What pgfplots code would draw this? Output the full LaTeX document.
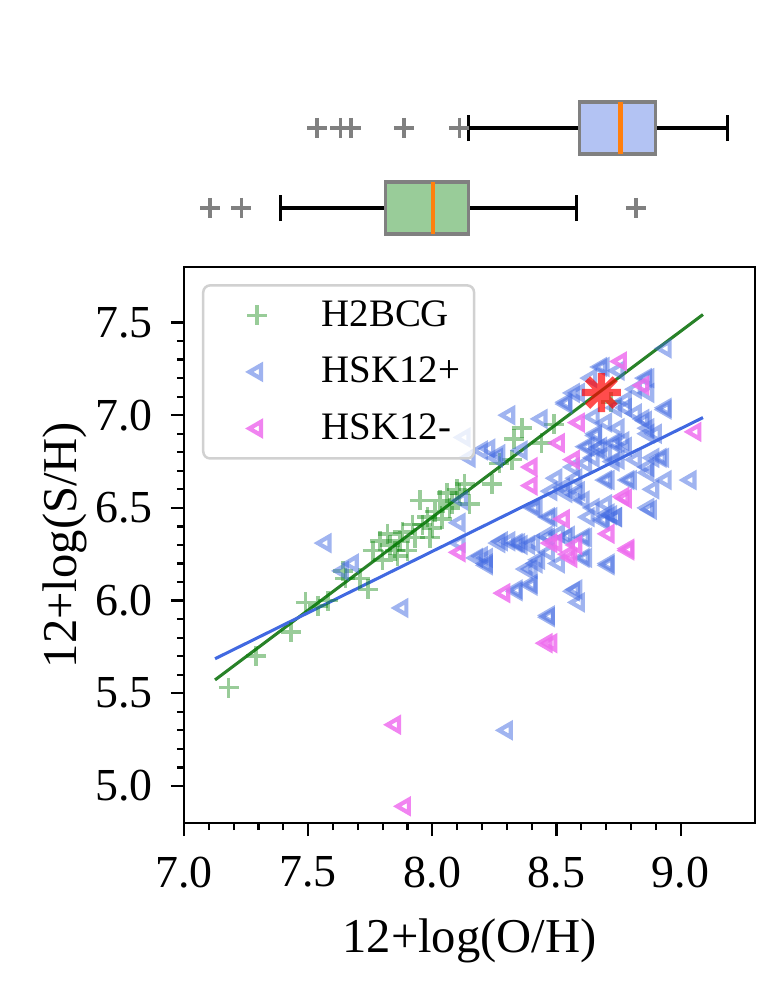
\documentclass[border=0pt]{standalone}
\usepackage{fontspec}
\setmainfont{Liberation Serif}
\usepackage{pgfplots}
\pgfplotsset{compat=1.18}
\usepgfplotslibrary{statistics}
\definecolor{royalblue}{RGB}{65,105,225}
\definecolor{mplgreen}{RGB}{0,128,0}
\definecolor{linegreen}{RGB}{40,130,40}
\definecolor{violetc}{RGB}{238,110,238}
\definecolor{mplorange}{RGB}{255,127,14}
\pgfdeclareplotmark{asteriskeight}{%
  \pgfpathmoveto{\pgfqpoint{-\pgfplotmarksize}{0pt}}\pgfpathlineto{\pgfqpoint{\pgfplotmarksize}{0pt}}%
  \pgfpathmoveto{\pgfqpoint{0pt}{-\pgfplotmarksize}}\pgfpathlineto{\pgfqpoint{0pt}{\pgfplotmarksize}}%
  \pgfpathmoveto{\pgfpointpolar{45}{\pgfplotmarksize}}\pgfpathlineto{\pgfpointpolar{225}{\pgfplotmarksize}}%
  \pgfpathmoveto{\pgfpointpolar{135}{\pgfplotmarksize}}\pgfpathlineto{\pgfpointpolar{315}{\pgfplotmarksize}}%
  \pgfusepathqstroke}
\pgfplotsset{mylegend/.style={legend image code/.code={\pgfpathrectangle{\pgfpoint{0pt}{-3pt}}{\pgfpoint{37.6pt}{6pt}}\pgfusepath{}\draw[mark repeat=2,mark phase=2,##1,only marks] plot coordinates {(0pt,0pt)(16.4pt,0pt)(37.6pt,0pt)};}}}

\pgfplotstableread{
x y
7.18 5.53
7.29 5.70
7.43 5.83
7.49 5.99
7.54 5.97
7.58 6.00
7.64 6.16
7.65 6.12
7.71 6.12
7.74 6.06
7.76 6.27
7.79 6.32
7.80 6.22
7.82 6.36
7.83 6.30
7.85 6.27
7.86 6.24
7.87 6.32
7.88 6.37
7.90 6.27
7.92 6.41
7.93 6.34
7.95 6.54
7.96 6.41
7.98 6.45
7.99 6.34
8.00 6.39
8.01 6.48
8.03 6.54
8.04 6.44
8.06 6.58
8.07 6.50
8.08 6.52
8.10 6.60
8.11 6.58
8.13 6.63
8.15 6.52
8.24 6.63
8.27 6.74
8.32 6.76
8.33 6.87
8.36 6.93
8.44 6.85
8.49 6.95
8.72 7.07
}\greendata

\pgfplotstableread{
x y
8.94 7.36
8.68 7.26
8.75 7.24
8.86 7.20
8.82 7.14
8.87 7.12
8.54 7.06
8.59 7.12
8.94 7.03
8.31 7.00
8.44 6.98
8.78 7.04
8.82 7.01
8.85 6.98
8.87 6.93
8.87 6.90
8.70 6.96
8.75 6.93
8.66 6.89
8.63 6.83
8.67 6.82
8.73 6.85
8.77 6.86
8.65 6.77
8.70 6.79
8.82 6.76
8.89 6.77
8.93 6.77
8.87 6.69
8.94 6.65
9.04 6.65
8.79 6.65
8.89 6.60
8.70 6.65
8.58 6.66
8.50 6.66
8.42 6.50
8.47 6.45
8.54 6.58
8.61 6.54
8.63 6.45
8.69 6.43
8.74 6.45
8.87 6.50
8.70 6.52
8.31 6.32
8.36 6.30
8.47 6.34
8.54 6.34
8.61 6.34
8.11 6.42
8.15 6.77
8.20 6.81
8.27 6.79
8.13 6.88
7.57 6.31
8.12 6.54
7.64 6.16
7.68 6.20
8.22 6.23
8.22 6.20
7.88 5.96
8.26 6.77
8.11 6.31
8.18 6.23
8.20 6.24
8.22 6.19
8.27 6.31
8.34 6.31
8.39 6.30
8.38 6.17
8.42 6.20
8.34 6.05
8.40 6.08
8.47 5.91
8.47 6.26
8.51 6.20
8.62 6.23
8.71 6.19
8.57 6.05
8.59 5.99
8.30 5.30
8.28 6.32
8.35 6.31
8.41 6.31
8.46 6.35
8.51 6.36
8.55 6.35
8.62 6.34
8.48 6.45
8.58 6.57
8.65 6.50
8.71 6.47
8.74 6.45
8.43 6.22
8.61 6.23
8.71 6.20
8.40 6.17
8.40 6.09
8.34 6.06
8.58 6.06
8.47 5.92
8.41 6.50
8.48 6.59
8.94 7.04
8.87 7.20
8.88 6.49
8.92 6.77
8.87 6.72
8.90 6.90
8.86 6.97
8.80 6.65
8.69 6.44
8.72 6.46
8.69 7.26
8.64 7.20
8.57 7.12
8.54 7.07
8.23 6.82
8.36 6.81
8.65 6.99
8.66 6.90
8.62 6.83
8.68 6.83
8.74 6.85
8.75 6.76
8.62 6.74
8.57 6.72
8.53 6.61
8.59 6.59
8.71 6.65
8.73 6.75
8.78 6.83
8.78 7.08
8.74 7.04
}\bluedata

\pgfplotstableread{
x y
8.76 7.29
8.85 7.16
8.59 6.96
8.51 6.85
8.57 6.76
8.40 6.72
8.40 6.62
9.06 6.91
8.77 6.56
8.53 6.44
8.71 6.36
8.79 6.28
8.50 6.31
8.58 6.30
8.55 6.25
8.11 6.26
8.48 6.31
8.56 6.23
8.79 6.27
8.29 6.04
8.46 5.77
8.48 5.77
7.85 5.33
7.89 4.89
8.78 6.55
}\pinkdata

\begin{document}
\begin{tikzpicture}
\path[use as bounding box] (-66.24pt,-60.12pt) rectangle (215.64pt,296.28pt);

% box plots
\begin{axis}[
  at={(0pt,207pt)}, anchor=south west,
  scale only axis, width=205.6pt, height=57.6pt,
  xmin=7, xmax=9.3, ymin=0.5, ymax=2.5,
  axis lines=none, clip=false,
  boxplot/draw direction=x,
  boxplot/box extend=0.65,
  boxplot/whisker extend=0.33,
  boxplot/every whisker/.style={draw=black, line width=1.1pt},
  boxplot/every median/.style={draw=mplorange, line width=1.6pt},
  boxplot/every box/.style={draw=gray, line width=1.1pt},
]
\addplot[boxplot prepared={draw position=1, lower whisker=7.387, lower quartile=7.812,
  median=8.002, upper quartile=8.146, upper whisker=8.581},
  fill=mplgreen!40!white, draw=black, mark=+, mark size=3.6pt,
  mark options={draw=gray, line width=1.2pt, solid}]
  table[row sep=\\, y index=0] {data\\ 7.105\\ 7.231\\ 8.82\\};
\addplot[boxplot prepared={draw position=2, lower whisker=8.146, lower quartile=8.593,
  median=8.758, upper quartile=8.899, upper whisker=9.188},
  fill=royalblue!40!white, draw=black, mark=+, mark size=3.6pt,
  mark options={draw=gray, line width=1.2pt, solid}]
  table[row sep=\\, y index=0] {data\\ 7.536\\ 7.629\\ 7.673\\ 7.886\\ 8.109\\};
\end{axis}

% main scatter
\begin{axis}[
  at={(0pt,0pt)}, anchor=south west,
  scale only axis, width=205.6pt, height=200.2pt,
  xmin=7, xmax=9.3, ymin=4.8, ymax=7.8,
  xtick={7,7.5,8,8.5,9}, ytick={5,5.5,6,6.5,7,7.5},
  minor x tick num=4, minor y tick num=4,
  tick align=outside, xtick pos=bottom, ytick pos=left,
  major tick length=4.7pt, minor tick length=2.6pt,
  every tick/.style={black, line width=0.8pt},
  axis line style={line width=0.8pt},
  tick label style={font=\fontsize{16.5}{19}\selectfont},
  xticklabel style={yshift=-4pt},
  yticklabel style={xshift=-3pt},
  label style={font=\fontsize{17.5}{20}\selectfont},
  xlabel style={yshift=-4pt},
  ylabel shift=-3.8pt,
  /pgf/number format/assume math mode=true,
  /pgf/number format/fixed, /pgf/number format/precision=1,
  /pgf/number format/fixed zerofill,
  xlabel={12+log(O/H)}, ylabel={12+log(S/H)},
  legend style={at={(0.0315,0.969)}, anchor=north west,
    draw=black!18, line width=0.9pt, rounded corners=2.5pt,
    fill=white, fill opacity=0.8, text opacity=1, draw opacity=1,
    font=\fontsize{14}{16}\selectfont, row sep=5.6pt,
    inner xsep=3pt, inner ysep=3.4pt},
  legend cell align=left,
]
\addplot[only marks, mark=+, mark size=3.6pt, draw=mplgreen, opacity=0.4, line width=1.3pt, forget plot]
  table[x=x, y=y] {\greendata};
\addplot[only marks, mark=triangle, mark size=2.8pt, draw=royalblue, opacity=0.5, line width=1.5pt,
  mark options={rotate=90, fill=none}, forget plot]
  table[x=x, y=y] {\bluedata};
\addplot[only marks, mark=triangle, mark size=2.8pt, draw=violetc, opacity=0.85, line width=1.5pt,
  mark options={rotate=90, fill=none}, forget plot]
  table[x=x, y=y] {\pinkdata};
\addplot[linegreen, line width=1.1pt, forget plot] coordinates {(7.125,5.572) (9.09,7.543)};
\addplot[royalblue, line width=1.1pt, forget plot] coordinates {(7.125,5.686) (9.09,6.987)};
\addplot[only marks, mark=asteriskeight, mark size=7pt, draw=red, opacity=0.7, line width=2.6pt, forget plot]
  coordinates {(8.681,7.122)};
\addlegendimage{mark=+, mark size=3.6pt, draw=mplgreen, opacity=0.4, line width=1.3pt, mylegend}
\addlegendentry{H2BCG}
\addlegendimage{mark=triangle, mark size=2.8pt, draw=royalblue, opacity=0.5, line width=1.5pt,
  mark options={rotate=90, fill=none}, mylegend}
\addlegendentry{HSK12+}
\addlegendimage{mark=triangle, mark size=2.8pt, draw=violetc, opacity=0.85, line width=1.5pt,
  mark options={rotate=90, fill=none}, mylegend}
\addlegendentry{HSK12-}
\end{axis}
\end{tikzpicture}
\end{document}
